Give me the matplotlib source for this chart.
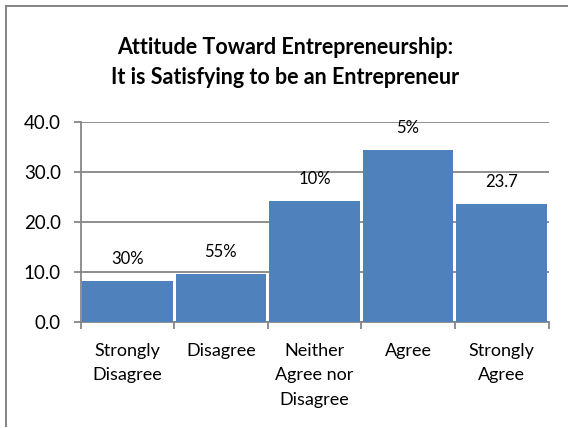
import matplotlib.pyplot as plt
import numpy as np
from matplotlib.patches import Rectangle

# survey responses
categories = ["Strongly\nDisagree", "Disagree", "Neither\nAgree nor\nDisagree", "Agree", "Strongly\nAgree"]
values = [8.3, 9.7, 24.3, 34.4, 23.7]
bar_labels = ["30%", "55%", "10%", "5%", "23.7"]
yticks = [0, 10, 20, 30, 40]

plt.rcParams['font.family'] = ['Lato', 'DejaVu Sans']

W, H = 571, 428
fig = plt.figure(figsize=(W / 100, H / 100), dpi=100)
ax = fig.add_axes([80.5 / W, 1 - 322 / H, 468 / W, 200 / H])

x = np.arange(len(categories))
ax.bar(x, values, width=0.97, color='#4F81BD', zorder=3)

for xi, v, lab in zip(x, values, bar_labels):
    ax.annotate(lab, (xi, v), xytext=(0, 10), textcoords='offset points',
                ha='center', va='bottom', fontsize=12, color='black')

ax.set_xlim(-0.5, len(categories) - 0.5)
ax.set_ylim(0, 40)
ax.set_yticks(yticks)
ax.set_yticklabels([f"{t:.1f}" for t in yticks], fontsize=13.5)
ax.yaxis.grid(True, color='#868686', linewidth=1.3, zorder=0)

# category labels sit below, ticks on the boundaries
ax.set_xticks(x)
ax.set_xticklabels(categories, fontsize=13, linespacing=1.65)
ax.tick_params(axis='x', length=0, pad=15)
ax.set_xticks(np.arange(-0.5, len(categories)), minor=True)
ax.tick_params(axis='x', which='minor', length=5, width=1.3, color='#868686')
ax.tick_params(axis='y', length=5, width=1.3, color='#868686', pad=9)

for side in ['top', 'right']:
    ax.spines[side].set_visible(False)
for side in ['left', 'bottom']:
    ax.spines[side].set_color('#868686')
    ax.spines[side].set_linewidth(1.3)

fig.text(0.5, 1 - 48 / H, "Attitude Toward Entrepreneurship:", ha='center', va='center',
         fontsize=15.5, fontweight='bold')
fig.text(0.5, 1 - 78 / H, "It is Satisfying to be an Entrepreneur", ha='center', va='center',
         fontsize=15.5, fontweight='bold')

# chart frame: left and top edges as thin filled strips
fig.patches.append(Rectangle((5 / W, 1 / H), 2 / W, 1 - 6 / H, transform=fig.transFigure,
                             facecolor='#868686', edgecolor='none'))
fig.patches.append(Rectangle((5 / W, 1 - 7 / H), 563 / W, 2 / H, transform=fig.transFigure,
                             facecolor='#868686', edgecolor='none'))

fig.savefig("out.png", dpi=100)
